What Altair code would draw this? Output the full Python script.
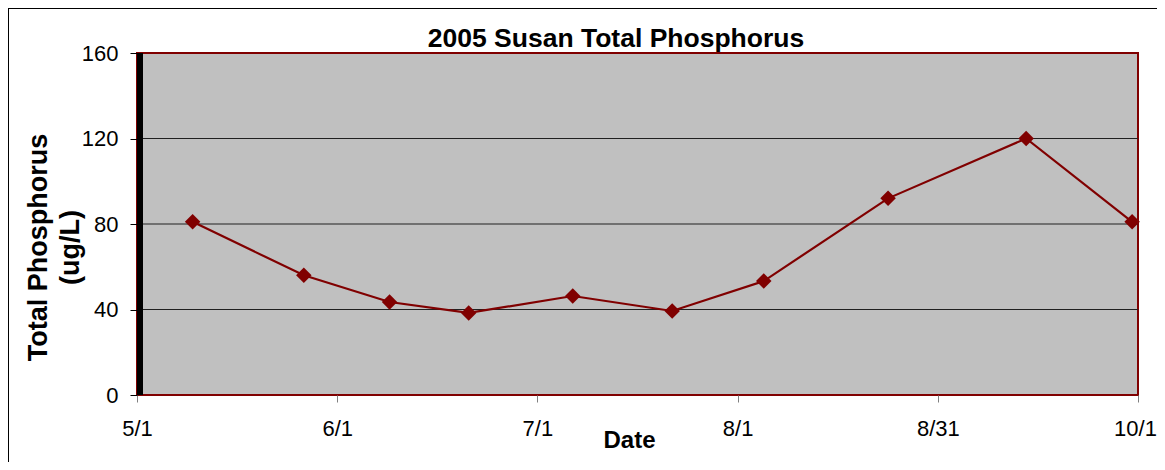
import altair as alt
import pandas as pd

# ---- data ----
days_since_may1 = [8.5, 25.5, 38.6, 50.7, 66.6, 81.8, 95.8, 114.8, 135.9, 152.1]
phosphorus = [81, 56, 43.5, 38.4, 46.3, 39.3, 53.3, 92, 120, 81]
x_tick_values = [0, 30.6, 61.2, 91.8, 122.4, 153]
x_tick_labels = ["5/1", "6/1", "7/1", "8/1", "8/31", "10/1"]
y_tick_values = [0, 40, 80, 120, 160]
grid_values = [40, 80, 120]

title_text = "2005 Susan Total Phosphorus"
x_title = "Date"
y_title = ["Total Phosphorus", "(ug/L)"]

FONT = "Liberation Sans"
DARK_RED = "#800000"
W, H = 1001, 342

df = pd.DataFrame({"day": days_since_may1, "tp": phosphorus})
grid_df = pd.DataFrame({"g": grid_values})
one_df = pd.DataFrame({"t": [title_text]})

label_array = "[" + ",".join("'" + s + "'" for s in x_tick_labels) + "]"

x_scale = alt.Scale(domain=[0, 153], nice=False, zero=False)
y_scale = alt.Scale(domain=[0, 160], nice=False)

x_axis = alt.Axis(
    values=x_tick_values,
    labelExpr=label_array + "[round(datum.value / 30.6)]",
    domain=False, grid=False, labelFlush=False,
    labelOffset=alt.condition("datum.value > 150", alt.value(-3), alt.value(0)),
    tickColor="#808080", tickSize=7, tickWidth=1,
    labelFont=FONT, labelFontSize=22, labelColor="black", labelPadding=16,
    title=x_title, titleFont=FONT, titleFontSize=24, titleFontWeight="bold",
    titleColor="black", titleX=492, titleY=52, titleAlign="center",
    titleBaseline="alphabetic", titleAnchor="start",
)
y_axis = alt.Axis(
    values=y_tick_values,
    domain=False, grid=False,
    tickColor="black", tickSize=7, tickWidth=1,
    labelFont=FONT, labelFontSize=22, labelColor="black", labelPadding=12,
    title=y_title, titleFont=FONT, titleFontSize=27, titleFontWeight="bold",
    titleColor="black", titleX=-91, titleY=194, titleAngle=270,
    titleAlign="center", titleBaseline="alphabetic", titleLineHeight=32,
    titleAnchor="start",
)

base = alt.Chart(df)

line = base.mark_line(color=DARK_RED, strokeWidth=2.2).encode(
    x=alt.X("day:Q", scale=x_scale, axis=x_axis),
    y=alt.Y("tp:Q", scale=y_scale, axis=y_axis),
)
pts = base.mark_point(shape="diamond", filled=True, color=DARK_RED, size=240, opacity=1).encode(
    x=alt.X("day:Q", scale=x_scale),
    y=alt.Y("tp:Q", scale=y_scale),
)

grid = alt.Chart(grid_df).mark_rule(color="#202020", strokeWidth=1).encode(
    y=alt.Y("g:Q", scale=y_scale)
)

left_bar = alt.Chart(one_df).mark_rule(color="black", strokeWidth=6).encode(
    x=alt.value(3), y=alt.value(0), y2=alt.value(H)
)

frame_top = alt.Chart(one_df).mark_rule(color="black", strokeWidth=1).encode(
    x=alt.value(-129), x2=alt.value(W + 200), y=alt.value(-44.5)
)
frame_left = alt.Chart(one_df).mark_rule(color="black", strokeWidth=1).encode(
    x=alt.value(-128.5), y=alt.value(-45), y2=alt.value(H + 200)
)

title = alt.Chart(one_df).mark_text(
    font=FONT, fontSize=26.5, fontWeight="bold", color="black",
    align="center", baseline="alphabetic"
).encode(text="t:N", x=alt.value(479), y=alt.value(-6))

chart = alt.layer(grid, left_bar, line, pts, frame_top, frame_left, title).properties(
    width=W, height=H,
    autosize=alt.AutoSizeParams(type="none"),
    padding={"left": 129, "top": 45, "right": 19, "bottom": 67},
    background="white",
).configure_view(
    fill="#C0C0C0", stroke=DARK_RED, strokeWidth=2
)

chart.save("out.html", embed_options={"renderer": "svg", "actions": False})
